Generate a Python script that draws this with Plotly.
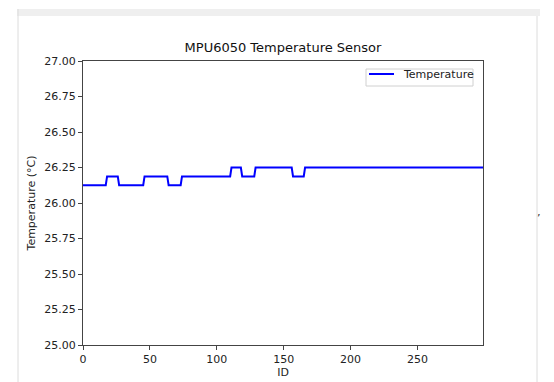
import plotly.graph_objects as go

# Readings: temperature level held from each change ID onward
change_ids = [0, 18, 27, 46, 64, 74, 111, 119, 129, 157, 166]
levels = [26.125, 26.1875, 26.125, 26.1875, 26.125, 26.1875, 26.25, 26.1875, 26.25, 26.1875, 26.25]
last_id = 299
series_name = "Temperature"

ids = list(range(last_id + 1))
temps = []
k = 0
for i in ids:
    while k + 1 < len(change_ids) and i >= change_ids[k + 1]:
        k += 1
    temps.append(levels[k])

y_ticks = [25.00, 25.25, 25.50, 25.75, 26.00, 26.25, 26.50, 26.75, 27.00]
x_ticks = [0, 50, 100, 150, 200, 250]

OFF = 8  # default page body margin
W, H = 554 - OFF, 382 - OFF
L, R, T, B = 83 - OFF, 483 - OFF, 61 - OFF, 345 - OFF

def px(x):
    return (x - OFF - L) / (R - L)

def py(y):
    return (B - (y - OFF)) / (B - T)

fig = go.Figure()
fig.add_trace(go.Scatter(x=ids, y=temps, mode="lines", name=series_name,
                         line=dict(color="#0000ff", width=2), showlegend=False))

font = "DejaVu Sans"
fig.update_layout(
    width=W, height=H,
    margin=dict(l=L, r=W - R, t=T, b=H - B, autoexpand=False),
    paper_bgcolor="white", plot_bgcolor="white",
    font=dict(family=font, size=11, color="#222"),
    title=dict(text="MPU6050 Temperature Sensor", x=0.5, xref="paper",
               y=1 - (47 - OFF) / H, yanchor="middle", font=dict(size=13, color="#111")),
    showlegend=False,
    xaxis=dict(range=[0, last_id], tickvals=x_ticks, ticktext=[str(v) for v in x_ticks],
               showgrid=False, zeroline=False, showline=True, linecolor="#444", linewidth=1,
               mirror=True, ticks="outside", ticklen=4, tickcolor="#444", automargin=False,
               title=dict(text="ID", standoff=2, font=dict(size=11))),
    yaxis=dict(range=[25, 27], tickvals=y_ticks, ticktext=[f"{v:.2f}" for v in y_ticks],
               showgrid=False, zeroline=False, showline=True, linecolor="#444", linewidth=1,
               mirror=True, ticks="outside", ticklen=4, tickcolor="#444", automargin=False,
               title=dict(text="Temperature (°C)", standoff=6, font=dict(size=11))),
)

# legend box (matplotlib style, upper right)
fig.add_shape(type="rect", xref="paper", yref="paper", x0=px(366), x1=px(473), y0=py(86), y1=py(69),
              fillcolor="white", line=dict(color="#d0d0d0", width=1))
fig.add_shape(type="line", xref="paper", yref="paper", x0=px(369), x1=px(394), y0=py(74), y1=py(74),
              line=dict(color="#0000ff", width=2))
fig.add_annotation(xref="paper", yref="paper", x=px(401), y=py(74.5), text=series_name,
                   showarrow=False, xanchor="left", yanchor="middle", font=dict(size=11, color="#222"))

# screenshot frame elements
fig.add_shape(type="rect", xref="paper", yref="paper", x0=px(17), x1=px(540), y0=py(16), y1=py(9),
              fillcolor="#efefef", line=dict(width=0), layer="below")
fig.add_shape(type="line", xref="paper", yref="paper", x0=px(18), x1=px(18), y0=py(9), y1=py(382),
              line=dict(color="#dcdcdc", width=1))
fig.add_shape(type="line", xref="paper", yref="paper", x0=px(537), x1=px(537), y0=py(16), y1=py(382),
              line=dict(color="#dcdcdc", width=1))
fig.add_annotation(xref="paper", yref="paper", x=px(539), y=py(219), text="’",
                   showarrow=False, xanchor="center", yanchor="middle", font=dict(size=11, color="#333"))

fig.write_html("out.html")
